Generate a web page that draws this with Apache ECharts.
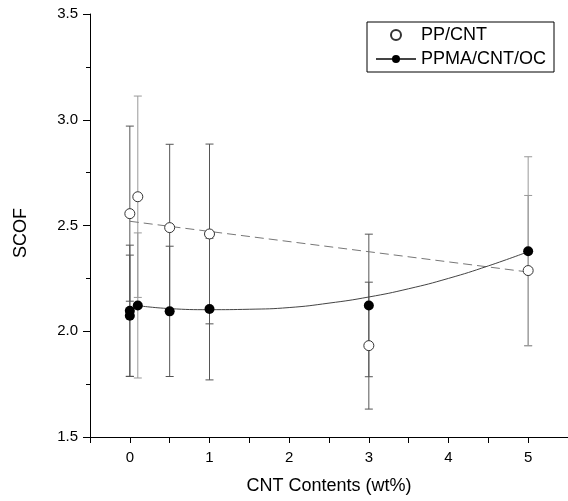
<!DOCTYPE html>
<html>
<head>
<meta charset="utf-8">
<script src="https://cdn.jsdelivr.net/npm/echarts@6/dist/echarts.min.js"></script>
<style>
  html, body { margin: 0; padding: 0; background: #fff; }
  #main { width: 568px; height: 501px; }
</style>
</head>
<body>
<div id="main"></div>
<script>
// 数据
var ppX = [0, 0.1, 0.5, 1, 3, 5];
var ppY = [2.556, 2.636, 2.49, 2.46, 1.932, 2.287];
var ppErr = [0.414, 0.476, 0.394, 0.425, 0.30, 0.355];

var ppmaX = [0, 0, 0.1, 0.5, 1, 3, 5];
var ppmaY = [2.097, 2.073, 2.122, 2.094, 2.105, 2.122, 2.378];
var ppmaErr = [0.31, 0.287, 0.343, 0.308, 0.335, 0.337, 0.447];

// fitted lines as drawn in the figure
var ppFitX = [0, 5];
var ppFitY = [2.52, 2.28];
var ppmaFitX = [0.1, 0.5, 1, 1.5, 2, 2.5, 3, 3.5, 4, 4.5, 5];
var ppmaFitY = [2.121, 2.107, 2.102, 2.104, 2.112, 2.133, 2.162, 2.201, 2.25, 2.309, 2.376];

var xTicks = [0, 1, 2, 3, 4, 5];
var yTicks = [1.5, 2.0, 2.5, 3.0, 3.5];

var lightBars = [0.1, 5];

function pairs(xs, ys) {
    var out = [];
    for (var i = 0; i < xs.length; i++) out.push([xs[i], ys[i]]);
    return out;
}
function triples(xs, ys, es) {
    var out = [];
    for (var i = 0; i < xs.length; i++) out.push([xs[i], ys[i], es[i]]);
    return out;
}

function errorBar(params, api) {
    var x = api.value(0), y = api.value(1), e = api.value(2);
    var top = api.coord([x, y + e]);
    var bot = api.coord([x, y - e]);
    var c = lightBars.indexOf(x) >= 0 ? '#999' : '#555';
    var st = { stroke: c, lineWidth: 1 };
    var w = 4;
    return {
        type: 'group',
        children: [
            { type: 'line', shape: { x1: top[0], y1: top[1], x2: bot[0], y2: bot[1] }, style: st },
            { type: 'line', shape: { x1: top[0] - w, y1: top[1], x2: top[0] + w, y2: top[1] }, style: st },
            { type: 'line', shape: { x1: bot[0] - w, y1: bot[1], x2: bot[0] + w, y2: bot[1] }, style: st }
        ]
    };
}

var font = 'Liberation Sans, Arial, sans-serif';
var myChart = echarts.init(document.getElementById('main'), null, { renderer: 'canvas' });

var option = {
    animation: false,
    backgroundColor: '#fff',
    textStyle: { fontFamily: font },
    grid: { left: 90, right: -2, top: 14, bottom: 64, containLabel: false },
    legend: {
        orient: 'vertical',
        left: 367,
        top: 22,
        padding: [3, 8, 3, 8],
        itemGap: 4,
        itemWidth: 40,
        itemHeight: 10,
        borderColor: '#000',
        borderWidth: 1,
        textStyle: { fontSize: 18, lineHeight: 20, color: '#000', fontFamily: font },
        data: ['PP/CNT', 'PPMA/CNT/OC']
    },
    xAxis: {
        type: 'value',
        min: -0.5,
        max: 5.5,
        interval: 0.5,
        name: 'CNT Contents (wt%)',
        nameLocation: 'middle',
        nameGap: 40,
        nameTextStyle: { fontSize: 18, color: '#000' },
        axisLine: { onZero: false, lineStyle: { color: '#000', width: 1 } },
        axisTick: {
            inside: false, length: 6, lineStyle: { color: '#000' },
            customValues: [-0.5, 0, 0.5, 1, 1.5, 2, 2.5, 3, 3.5, 4, 4.5, 5]
        },
        axisLabel: {
            fontSize: 15, color: '#000', margin: 13,
            customValues: xTicks
        },
        splitLine: { show: false }
    },
    yAxis: {
        type: 'value',
        min: 1.5,
        max: 3.5,
        interval: 0.5,
        name: 'SCOF',
        nameLocation: 'middle',
        nameGap: 60,
        nameRotate: 90,
        nameTextStyle: { fontSize: 18, color: '#000', padding: [0, 15, 0, 0] },
        axisLine: { show: true, onZero: false, lineStyle: { color: '#000', width: 1 } },
        axisTick: { show: true, length: 7, lineStyle: { color: '#000' } },
        minorTick: { show: true, splitNumber: 2, length: 4, lineStyle: { color: '#000' } },
        axisLabel: {
            fontSize: 15, color: '#000', margin: 12,
            formatter: function (v) { return yTicks.indexOf(v) >= 0 ? v.toFixed(1) : ''; }
        },
        splitLine: { show: false }
    },
    series: [
        {
            name: 'ppErr', type: 'custom', renderItem: errorBar, z: 1,
            data: triples(ppX, ppY, ppErr), encode: { x: 0, y: 1 }, silent: true
        },
        {
            name: 'ppmaErr', type: 'custom', renderItem: errorBar, z: 1,
            data: triples(ppmaX, ppmaY, ppmaErr), encode: { x: 0, y: 1 }, silent: true
        },
        {
            name: 'ppFit', type: 'line', z: 2, symbol: 'none',
            lineStyle: { color: '#777', width: 1, type: [9, 5] },
            data: pairs(ppFitX, ppFitY)
        },
        {
            name: 'PPMA/CNT/OC', type: 'line', z: 2, smooth: true,
            symbol: 'circle', symbolSize: 9, showSymbol: false,
            itemStyle: { color: '#000' },
            lineStyle: { color: '#444', width: 1 },
            data: pairs(ppmaFitX, ppmaFitY)
        },
        {
            name: 'PP/CNT', type: 'scatter', z: 3,
            symbol: 'circle', symbolSize: 10,
            itemStyle: { color: '#fff', borderColor: '#333', borderWidth: 1, opacity: 1 },
            data: pairs(ppX, ppY)
        },
        {
            name: 'PPMA/CNT/OC', type: 'scatter', z: 3,
            symbol: 'circle', symbolSize: 10,
            itemStyle: { color: '#000', opacity: 1 },
            data: pairs(ppmaX, ppmaY)
        }
    ]
};

myChart.setOption(option);
</script>
</body>
</html>
